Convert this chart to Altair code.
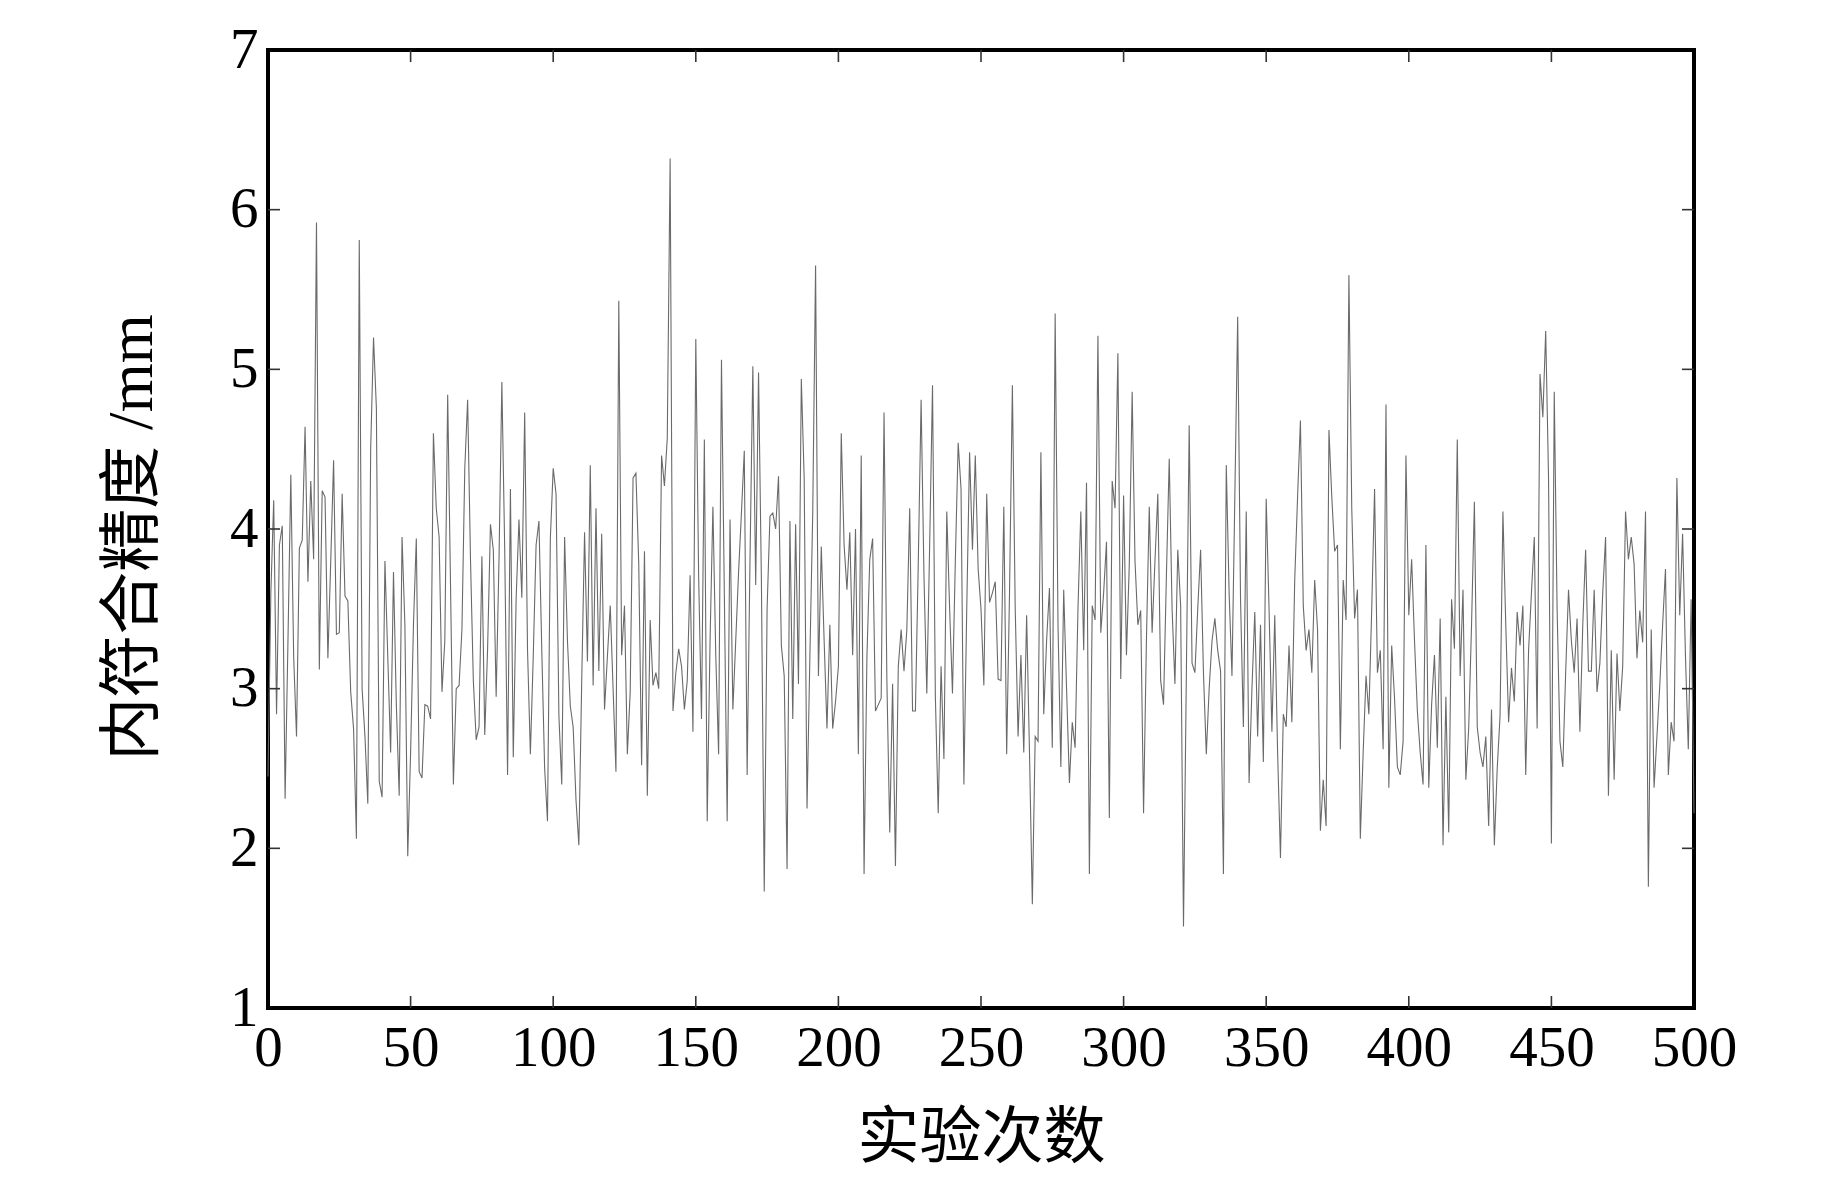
import altair as alt
import pandas as pd

# 实验次数 0..500 -> 内符合精度 (mm)
values = [
    2.45, 3.6, 4.18, 2.84, 3.90, 4.02, 2.31, 3.3, 4.34, 3.2,
    2.70, 3.88, 3.93, 4.64, 3.67, 4.30, 3.81, 5.92, 3.12, 4.24,
    4.20, 3.19, 3.8, 4.43, 3.34, 3.35, 4.22, 3.58, 3.55, 2.98,
    2.75, 2.06, 5.81, 3.0, 2.7, 2.28, 4.5, 5.20, 4.76, 2.42,
    2.32, 3.80, 3.2, 2.60, 3.73, 2.9, 2.33, 3.95, 3.4, 1.95,
    2.6, 3.4, 3.94, 2.48, 2.44, 2.90, 2.89, 2.81, 4.60, 4.13,
    3.95, 2.98, 3.30, 4.84, 3.65, 2.40, 3.0, 3.02, 3.37, 4.38,
    4.81, 3.81, 3.05, 2.68, 2.76, 3.83, 2.71, 3.25, 4.03, 3.87,
    2.95, 3.81, 4.92, 3.87, 2.46, 4.25, 2.57, 3.56, 4.06, 3.57,
    4.73, 3.24, 2.59, 3.2, 3.90, 4.05, 3.24, 2.5, 2.17, 3.94,
    4.38, 4.22, 2.83, 2.40, 3.95, 3.3, 2.89, 2.76, 2.3, 2.02,
    3.05, 3.98, 3.17, 4.40, 3.02, 4.13, 3.11, 3.97, 2.87, 3.2,
    3.52, 3.00, 2.48, 5.43, 3.21, 3.52, 2.59, 2.98, 4.32, 4.35,
    3.78, 2.52, 3.86, 2.33, 3.43, 3.02, 3.1, 3.00, 4.46, 4.27,
    4.57, 6.32, 2.86, 3.1, 3.25, 3.14, 2.87, 3.05, 3.71, 2.73,
    5.19, 3.7, 2.81, 4.56, 2.17, 3.3, 4.14, 3.21, 2.59, 5.06,
    3.6, 2.17, 4.06, 2.87, 3.3, 3.73, 4.10, 4.49, 2.46, 3.8,
    5.02, 3.65, 4.98, 3.68, 1.73, 3.5, 4.08, 4.10, 4.00, 4.33,
    3.27, 3.08, 1.87, 4.05, 2.81, 4.03, 3.03, 4.94, 4.32, 2.25,
    3.2, 4.10, 5.65, 3.08, 3.89, 3.3, 2.75, 3.40, 2.75, 2.92,
    3.14, 4.60, 3.9, 3.62, 3.98, 3.21, 4.00, 2.59, 4.46, 1.84,
    3.2, 3.81, 3.94, 2.86, 2.9, 2.94, 4.73, 3.05, 2.10, 3.03,
    1.89, 3.14, 3.37, 3.11, 3.37, 4.13, 2.86, 2.86, 3.78, 4.81,
    3.71, 2.97, 3.9, 4.90, 2.95, 2.22, 3.14, 2.56, 4.11, 3.5,
    2.97, 3.8, 4.54, 4.25, 2.40, 3.5, 4.48, 3.87, 4.46, 3.75,
    3.5, 3.02, 4.22, 3.54, 3.6, 3.67, 3.06, 3.05, 4.14, 2.59,
    3.6, 4.90, 3.5, 2.70, 3.21, 2.60, 3.46, 2.6, 1.65, 2.70,
    2.67, 4.48, 2.84, 3.3, 3.63, 2.63, 5.35, 3.4, 2.51, 3.62,
    3.0, 2.41, 2.79, 2.63, 3.5, 4.11, 3.24, 4.29, 1.84, 3.52,
    3.43, 5.21, 3.35, 3.6, 3.92, 2.19, 4.30, 4.13, 5.10, 3.06,
    4.21, 3.21, 3.78, 4.86, 3.8, 3.40, 3.49, 2.22, 3.3, 4.14,
    3.35, 3.8, 4.22, 3.05, 2.90, 3.7, 4.44, 3.5, 3.03, 3.87,
    3.52, 1.51, 3.08, 4.65, 3.16, 3.10, 3.5, 3.87, 3.1, 2.59,
    3.0, 3.3, 3.44, 3.24, 3.11, 1.84, 4.40, 3.6, 3.08, 4.2,
    5.33, 3.56, 2.76, 4.11, 2.41, 3.0, 3.48, 2.70, 3.40, 2.54,
    4.19, 3.5, 2.73, 3.46, 2.6, 1.94, 2.84, 2.76, 3.27, 2.79,
    3.68, 4.2, 4.68, 3.52, 3.24, 3.37, 3.10, 3.68, 3.37, 2.11,
    2.43, 2.14, 4.62, 4.2, 3.86, 3.90, 2.62, 3.68, 3.43, 5.59,
    4.13, 3.44, 3.62, 2.06, 2.6, 3.08, 2.84, 3.5, 4.25, 3.10,
    3.24, 2.62, 4.78, 2.38, 3.27, 2.94, 2.51, 2.46, 2.67, 4.46,
    3.46, 3.81, 3.3, 2.86, 2.6, 2.40, 3.90, 2.38, 2.9, 3.21,
    2.63, 3.44, 2.02, 2.95, 2.10, 3.56, 3.25, 4.56, 3.08, 3.62,
    2.43, 2.75, 3.4, 4.17, 2.76, 2.6, 2.51, 2.70, 2.14, 2.87,
    2.02, 2.5, 2.83, 4.11, 3.4, 2.79, 3.13, 2.92, 3.48, 3.27,
    3.52, 2.46, 3.24, 3.6, 3.95, 2.75, 4.97, 4.70, 5.24, 4.32,
    2.03, 4.86, 3.5, 2.67, 2.51, 3.1, 3.62, 3.3, 3.10, 3.44,
    2.73, 3.4, 3.87, 3.11, 3.11, 3.62, 2.98, 3.16, 3.6, 3.95,
    2.33, 3.24, 2.43, 3.22, 2.86, 3.14, 4.11, 3.81, 3.95, 3.78,
    3.19, 3.49, 3.29, 4.11, 1.76, 3.37, 2.38, 2.7, 3.02, 3.4,
    3.75, 2.46, 2.79, 2.67, 4.32, 3.46, 3.97, 3.21, 2.62, 3.56,
    2.22,
]
runs = list(range(len(values)))

x_ticks = [0, 50, 100, 150, 200, 250, 300, 350, 400, 450, 500]
y_ticks = [1, 2, 3, 4, 5, 6, 7]
x_inner = [50, 100, 150, 200, 250, 300, 350, 400, 450]
y_inner = [2, 3, 4, 5, 6]

W, H = 1426, 958
SERIF = "Liberation Serif, Times New Roman, serif"
CJK = "Liberation Serif, Noto Sans CJK SC, serif"

df = pd.DataFrame({"run": runs, "acc": values})
xs = alt.Scale(domain=[0, 500], nice=False, zero=False)
ys = alt.Scale(domain=[1, 7], nice=False, zero=False)

x_axis = alt.Axis(
    values=x_ticks, ticks=False, domain=False, grid=False,
    labelFont=SERIF, labelFontSize=57, labelColor="black",
    labelPadding=12, labelFlush=False, labelOverlap=False,
    title="实验次数", titleFont=CJK, titleFontSize=62,
    titleFontWeight="normal", titleColor="black",
    titleY=130, titleBaseline="middle")
y_axis = alt.Axis(
    values=y_ticks, ticks=False, domain=False, grid=False,
    labelFont=SERIF, labelFontSize=57, labelColor="black",
    labelPadding=10, labelFlush=False, labelOverlap=False,
    title="内符合精度 /mm", titleFont=CJK, titleFontSize=63,
    titleFontWeight="normal", titleColor="black",
    titleX=-136, titleY=H / 2 + 8, titleBaseline="middle",
    titleAlign="center")

line = alt.Chart(df).mark_line(color="#6a6a6a", strokeWidth=1.1).encode(
    x=alt.X("run:Q", scale=xs, axis=x_axis),
    y=alt.Y("acc:Q", scale=ys, axis=y_axis),
)

ydf = pd.DataFrame({"v": y_inner})
xdf = pd.DataFrame({"t": x_inner})
tick_style = dict(color="#333333", strokeWidth=1.6)

yl = alt.Chart(ydf).mark_rule(**tick_style).encode(
    y=alt.Y("v:Q", scale=ys, axis=y_axis), x=alt.value(0), x2=alt.value(12))
yr = alt.Chart(ydf).mark_rule(**tick_style).encode(
    y=alt.Y("v:Q", scale=ys, axis=y_axis), x=alt.value(W - 12), x2=alt.value(W))
xb = alt.Chart(xdf).mark_rule(**tick_style).encode(
    x=alt.X("t:Q", scale=xs, axis=x_axis), y=alt.value(H - 12), y2=alt.value(H))
xt = alt.Chart(xdf).mark_rule(**tick_style).encode(
    x=alt.X("t:Q", scale=xs, axis=x_axis), y=alt.value(0), y2=alt.value(12))

chart = alt.layer(line, yl, yr, xb, xt).properties(
    width=W, height=H,
    padding={"left": 260, "top": 42, "right": 130, "bottom": 173},
    autosize=alt.AutoSizeParams(type="none"),
    background="white",
).configure_view(stroke="black", strokeWidth=4)

chart.save("out.html", embed_options={"renderer": "svg", "actions": False})
